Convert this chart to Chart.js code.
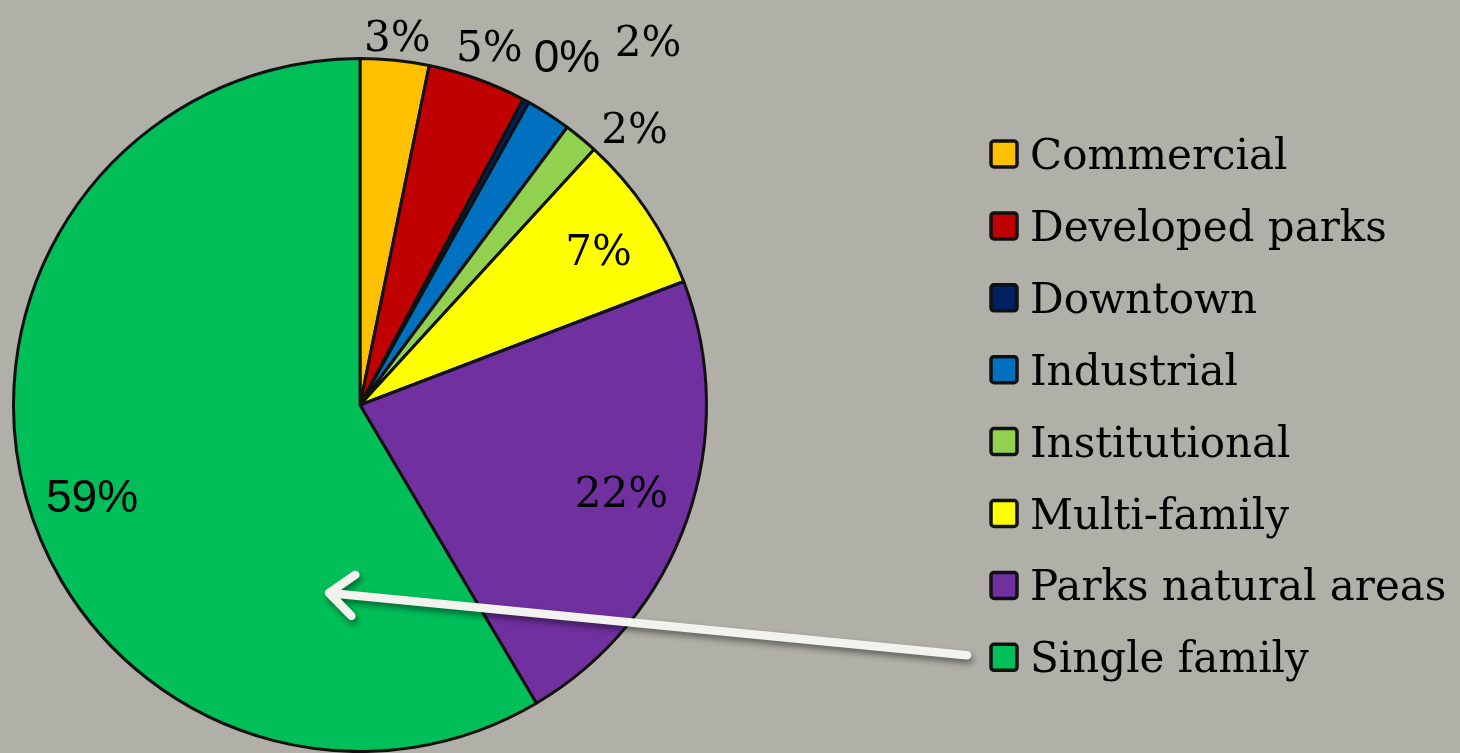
<!DOCTYPE html>
<html>
<head>
<meta charset="utf-8">
<script src="https://cdn.jsdelivr.net/npm/chart.js@4.4.0/dist/chart.umd.min.js"></script>
<style>
  html, body { margin: 0; padding: 0; background: #b0b0a8; }
  #wrap { width: 1460px; height: 753px; position: relative; }
</style>
</head>
<body>
<div id="wrap"><canvas id="landUse"></canvas></div>
<script>
// Land use shares (percent)
const landUses = [
  "Commercial",
  "Developed parks",
  "Downtown",
  "Industrial",
  "Institutional",
  "Multi-family",
  "Parks natural areas",
  "Single family",
]
const shares = [3.2, 4.6, 0.3, 2.1, 1.6, 7.4, 22.3, 58.5]
const sliceColors = ["#ffc000", "#c00000", "#002060", "#0070c0", "#92d050", "#ffff00", "#7030a0", "#00be58"]

// where each percent label sits: distance as a share of the radius, extra turn in degrees
const labelPlacement = [
  { dist: 1.072, turn: 0, sans: false },
  { dist: 1.101, turn: 0, sans: false },
  { dist: 1.173, turn: 2, sans: true },
  { dist: 1.34, turn: 5.4, sans: false },
  { dist: 1.127, turn: 5.1, sans: false },
  { dist: 0.821, turn: 1.2, sans: false },
  { dist: 0.795, turn: -0.9, sans: false },
  { dist: 0.816, turn: -3.3, sans: true },
]

const serif = "'DejaVu Serif', serif"
const sans = "'Liberation Sans', Arial, sans-serif"

const sliceLabels = {
  id: "sliceLabels",
  afterDatasetsDraw(chart) {
    const ctx = chart.ctx
    const meta = chart.getDatasetMeta(0)
    const total = shares.reduce((a, b) => a + b, 0)
    meta.data.forEach((arc, i) => {
      const p = arc.getProps(["x", "y", "startAngle", "endAngle", "outerRadius"], true)
      const place = labelPlacement[i]
      const a = (p.startAngle + p.endAngle) / 2 + (place.turn * Math.PI) / 180
      const r = p.outerRadius * place.dist
      const size = place.sans ? 46 : 42
      ctx.save()
      ctx.font = size + "px " + (place.sans ? sans : serif)
      ctx.fillStyle = "#000"
      ctx.textAlign = "center"
      ctx.textBaseline = "alphabetic"
      ctx.fillText(Math.round((shares[i] / total) * 100) + "%", p.x + Math.cos(a) * r, p.y + Math.sin(a) * r + size * 0.36)
      ctx.restore()
    })
  },
}

// legend on the right, drawn by hand so the spacing matches
const sideLegend = {
  id: "sideLegend",
  afterDraw(chart) {
    const ctx = chart.ctx
    const labels = chart.data.labels
    const colors = chart.data.datasets[0].backgroundColor
    const boxX = 991
    const boxSize = 26
    const firstY = 154
    const step = 71.9
    ctx.save()
    labels.forEach((label, i) => {
      const cy = firstY + i * step
      ctx.beginPath()
      ctx.roundRect(boxX, cy - boxSize / 2, boxSize, boxSize, 3)
      ctx.fillStyle = colors[i]
      ctx.fill()
      ctx.lineWidth = 3.5
      ctx.strokeStyle = "#111"
      ctx.stroke()
      ctx.font = "42px " + serif
      ctx.fillStyle = "#000"
      ctx.textAlign = "left"
      ctx.textBaseline = "alphabetic"
      ctx.fillText(label, boxX + 39, cy + 15)
    })
    ctx.restore()
  },
}

// white arrow from the "Single family" legend entry into its slice
const pointer = {
  id: "pointer",
  afterDraw(chart) {
    const ctx = chart.ctx
    const arc = chart.getDatasetMeta(0).data[7]
    const c = arc.getProps(["x", "y"], true)
    const tail = { x: 967, y: 154 + 7 * 71.9 - 2 }
    const head = { x: c.x - 31, y: c.y + 188 }
    const ang = Math.atan2(head.y - tail.y, head.x - tail.x)
    const arm = 32
    ctx.save()
    ctx.shadowColor = "rgba(0,0,0,0.45)"
    ctx.shadowBlur = 6
    ctx.shadowOffsetX = 2
    ctx.shadowOffsetY = 4
    ctx.strokeStyle = "#f2f2ee"
    ctx.lineWidth = 8.5
    ctx.lineCap = "round"
    ctx.lineJoin = "round"
    ctx.beginPath()
    ctx.moveTo(tail.x, tail.y)
    ctx.lineTo(head.x, head.y)
    ctx.moveTo(head.x - Math.cos(ang - 0.7) * arm, head.y - Math.sin(ang - 0.7) * arm)
    ctx.lineTo(head.x, head.y)
    ctx.lineTo(head.x - Math.cos(ang + 0.7) * arm, head.y - Math.sin(ang + 0.7) * arm)
    ctx.stroke()
    ctx.restore()
  },
}

document.addEventListener("DOMContentLoaded", () => {
  const ctxLand = document.getElementById("landUse").getContext("2d")
  new Chart(ctxLand, {
    type: "pie",
    data: {
      labels: landUses,
      datasets: [
        {
          data: shares,
          backgroundColor: sliceColors,
          borderColor: "#111",
          borderWidth: 3,
        },
      ],
    },
    options: {
      responsive: true,
      maintainAspectRatio: false,
      animation: false,
      events: [],
      layout: {
        padding: { left: 12, top: 57, right: 752, bottom: 0 },
      },
      plugins: {
        legend: { display: false },
        tooltip: { enabled: false },
      },
    },
    plugins: [sliceLabels, sideLegend, pointer],
  })
})
</script>
</body>
</html>
